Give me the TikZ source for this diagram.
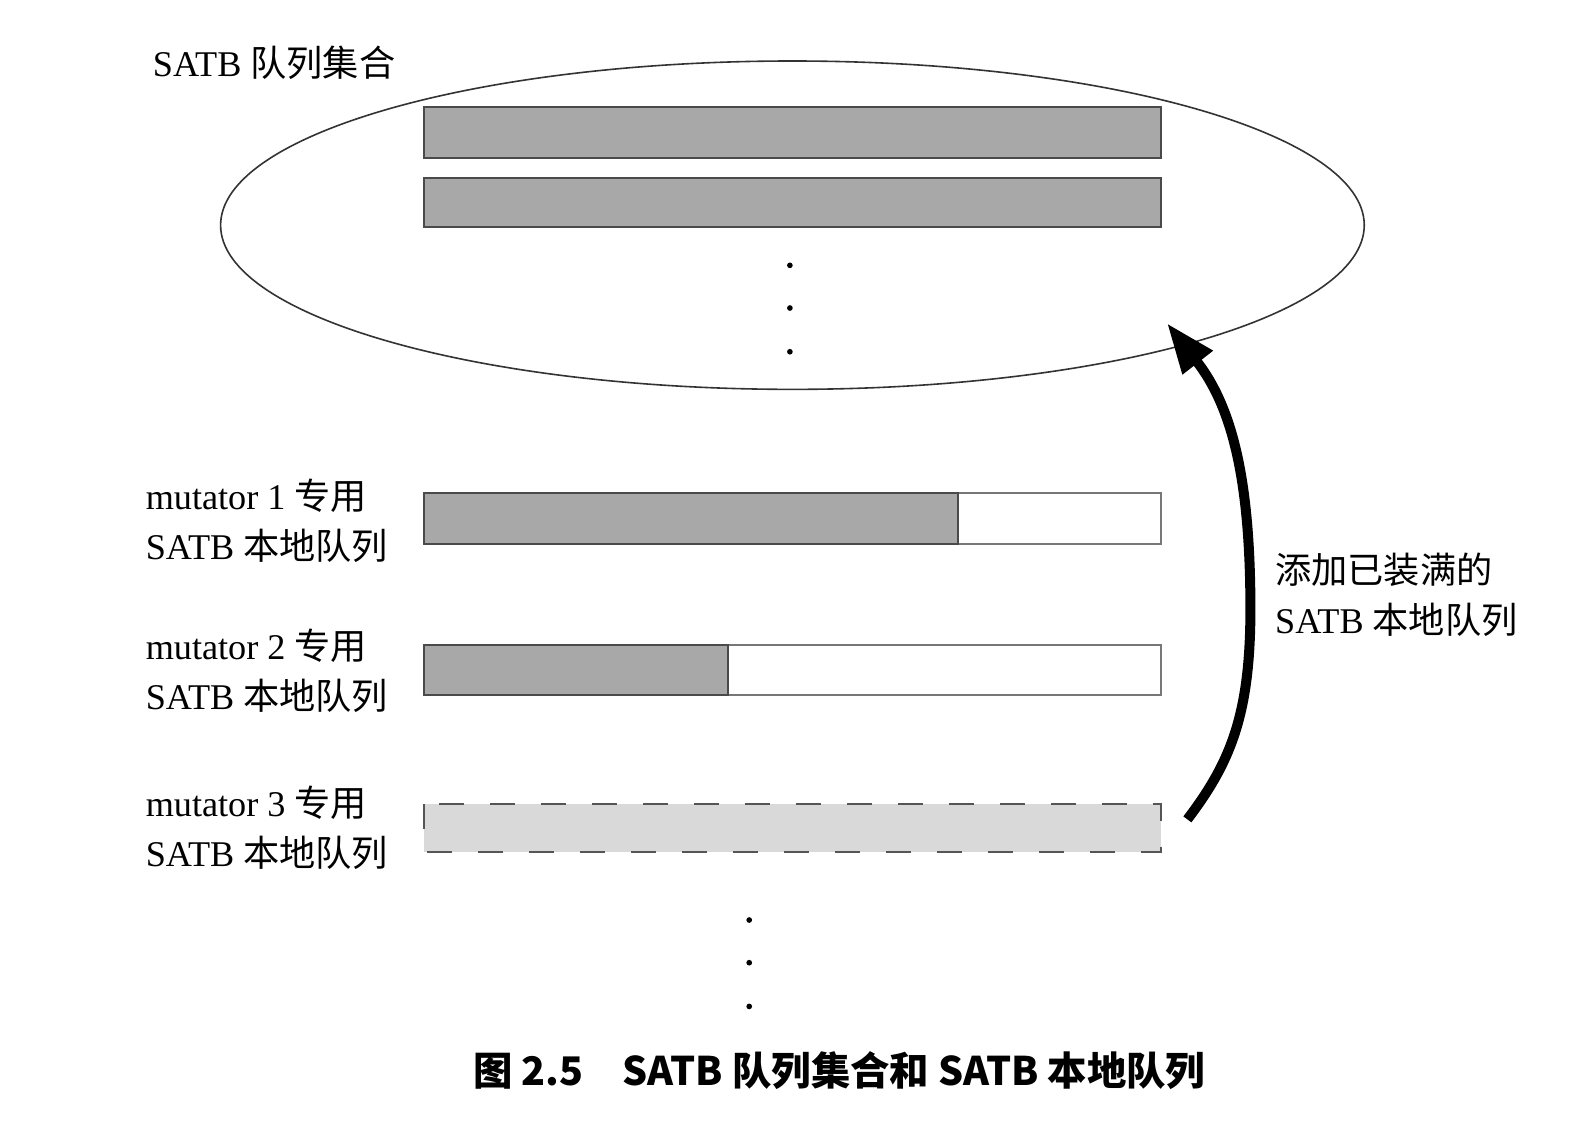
\documentclass[tikz,border=0pt]{standalone}
\usepackage{fontspec}
\setmainfont{Liberation Serif}
\newfontfamily\cjkfont{Noto Sans CJK SC}
\usetikzlibrary{arrows.meta}
\newcommand\zh[1]{{\cjkfont #1}}
\definecolor{barfill}{HTML}{A8A8A8}
\definecolor{barline}{HTML}{4A4A4A}
\definecolor{emptyline}{HTML}{777777}
\definecolor{lightfill}{HTML}{D9D9D9}
\definecolor{dashline}{HTML}{555555}
\definecolor{ellline}{HTML}{333333}
\begin{document}
\begin{tikzpicture}[x=0.5083pt,y=-0.5083pt,
  lbl/.style={anchor=west, align=left, inner sep=0pt, font=\fontsize{18.1}{25}\selectfont},
  fullbar/.style={draw=barline, fill=barfill, line width=1pt},
  emptybar/.style={draw=emptyline, fill=white, line width=1pt},
  ghostbar/.style={draw=dashline, fill=lightfill, line width=1pt, dash pattern=on 12.5pt off 13pt},
  dotmark/.style={fill=black},
  bigarrow/.style={line width=5pt, -{Triangle[length=25pt,width=18pt]}}
]
\useasboundingbox (0,0) rectangle (1568,1113.5);

% ellipse (SATB queue set)
\draw[ellline, line width=0.8pt] (779.5,221.5) ellipse [x radius=562.5, y radius=161.5];
\node[lbl] (title) at (150,62) {SATB \zh{队列集合}};

% bars inside set
\draw[fullbar] (417,105) rectangle (1142,155);
\draw[fullbar] (417,175) rectangle (1142,223);
\fill[dotmark] (777,261) circle [radius=2.8];
\fill[dotmark] (777,303) circle [radius=2.8];
\fill[dotmark] (777,346) circle [radius=2.8];

% mutator 1
\node[lbl] (m1) at (143,512) {mutator 1 \zh{专用}\\SATB \zh{本地队列}};
\draw[emptybar] (417,485) rectangle (1142,535);
\draw[fullbar] (417,485) rectangle (942,535);

% mutator 2
\node[lbl] (m2) at (143,660) {mutator 2 \zh{专用}\\SATB \zh{本地队列}};
\draw[emptybar] (417,634) rectangle (1142,684);
\draw[fullbar] (417,634) rectangle (716,684);

% mutator 3
\node[lbl] (m3) at (143,814) {mutator 3 \zh{专用}\\SATB \zh{本地队列}};
\draw[ghostbar] (417,791) rectangle (1142,838);

% dots below
\fill[dotmark] (737,905) circle [radius=2.8];
\fill[dotmark] (737,947) circle [radius=2.8];
\fill[dotmark] (737,990) circle [radius=2.8];

% arrow
\coordinate (arrS) at (1168,806);
\coordinate (arrM) at (1230,590);
\coordinate (arrE) at (1148,318);
\draw[bigarrow] (arrS) .. controls (1212,748) and (1231,700) .. (arrM)
  .. controls (1229,470) and (1212,400) .. (arrE);
\node[lbl] (addlbl) at (1254,585) {\zh{添加已装满的}\\SATB \zh{本地队列}};

% caption
\node[font=\cjkfont\bfseries\fontsize{19.7}{23}\selectfont, inner sep=0pt] (cap) at (825.5,1053)
  {图 2.5\quad SATB 队列集合和 SATB 本地队列};
\end{tikzpicture}
\end{document}
